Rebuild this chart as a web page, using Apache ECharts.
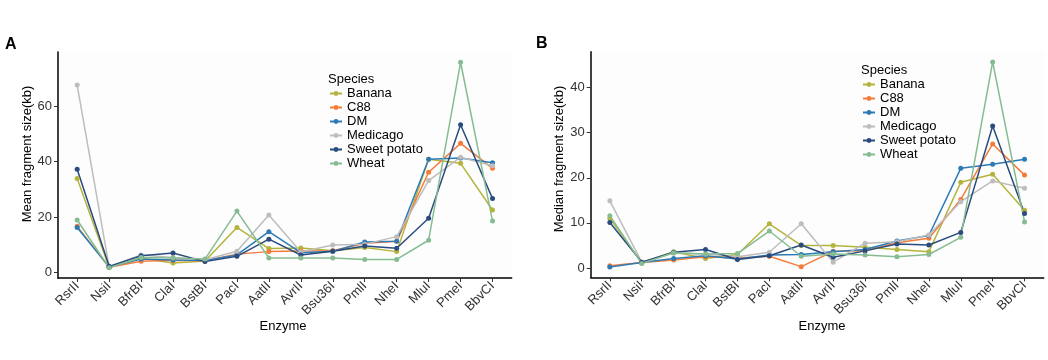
<!DOCTYPE html>
<html>
<head>
<meta charset="utf-8">
<script src="https://cdn.jsdelivr.net/npm/echarts@6/dist/echarts.min.js"></script>
<style>
html,body{margin:0;padding:0;background:#fff;}
#chart{width:1048px;height:360px;}
</style>
</head>
<body>
<div id="chart"></div>
<script>
const categories = ['RsrII','NsiI','BfrBI','ClaI','BstBI','PacI','AatII','AvrII','Bsu36I','PmlI','NheI','MluI','PmeI','BbvCI'];
const speciesNames = ['Banana','C88','DM','Medicago','Sweet potato','Wheat'];
const speciesColors = ['#B4B43C','#F47C3A','#2C7BB6','#BDBDBD','#294B7E','#86BC92'];

// Panel A: mean fragment size (kb)
const meanBanana      = [33.9, 2.0, 5.2, 3.5, 4.2, 16.3, 8.7, 8.9, 7.9, 9.1, 7.6, 40.9, 39.4, 22.6];
const meanC88         = [16.7, 2.0, 4.1, 4.5, 4.3, 6.7, 7.6, 7.8, 7.9, 10.6, 11.3, 36.2, 46.6, 37.6];
const meanDM          = [16.3, 2.1, 4.9, 4.6, 4.4, 6.4, 14.8, 7.2, 7.7, 11.1, 11.3, 40.9, 41.3, 39.6];
const meanMedicago    = [67.6, 2.2, 6.4, 5.5, 4.7, 7.7, 20.8, 7.5, 10.0, 10.3, 13.0, 33.2, 41.6, 38.5];
const meanSweetPotato = [37.3, 2.3, 6.1, 7.1, 4.0, 5.9, 12.1, 6.4, 7.7, 9.6, 8.8, 19.6, 53.3, 26.7];
const meanWheat       = [19.0, 1.8, 5.5, 5.3, 4.9, 22.2, 5.3, 5.3, 5.3, 4.8, 4.8, 11.7, 75.8, 18.6];

// Panel B: median fragment size (kb)
const medBanana      = [11.0, 1.2, 3.6, 2.1, 3.0, 9.8, 5.0, 5.0, 4.6, 4.1, 3.6, 19.0, 20.8, 12.8];
const medC88         = [0.5, 1.2, 1.8, 2.5, 2.2, 2.6, 0.3, 3.7, 3.8, 5.6, 6.6, 15.2, 27.5, 20.6];
const medDM          = [0.2, 1.2, 2.1, 2.7, 2.0, 2.9, 3.0, 3.6, 4.1, 6.0, 7.2, 22.1, 23.0, 24.1];
const medMedicago    = [14.9, 1.3, 3.3, 3.1, 2.5, 3.5, 9.8, 1.3, 5.5, 5.8, 7.3, 14.7, 19.3, 17.7];
const medSweetPotato = [10.1, 1.3, 3.5, 4.1, 1.9, 2.7, 5.1, 2.4, 3.8, 5.3, 5.1, 7.9, 31.5, 12.1];
const medWheat       = [11.6, 1.0, 3.4, 3.1, 3.2, 8.2, 2.6, 3.1, 2.9, 2.5, 3.0, 6.8, 45.7, 10.2];

const yTicksA = [0, 20, 40, 60];
const yTicksB = [0, 10, 20, 30, 40];

const meanSets = [meanBanana, meanC88, meanDM, meanMedicago, meanSweetPotato, meanWheat];
const medSets  = [medBanana, medC88, medDM, medMedicago, medSweetPotato, medWheat];

const FONT = 'Liberation Sans, Arial, sans-serif';
const catIdx = categories.map((c, i) => i);

function xAxisFor(gridIndex) {
  return {
    type: 'value', gridIndex: gridIndex, min: -0.6, max: 13.6,
    axisLine: {show: true, onZero: false, lineStyle: {color: '#000', width: 1.5}},
    axisTick: {show: true, customValues: catIdx, length: 4, lineStyle: {color: '#333', width: 1}},
    axisLabel: {customValues: catIdx, formatter: v => categories[Math.round(v)], rotate: 45,
      margin: 6, color: '#333', fontSize: 13, fontFamily: FONT},
    splitLine: {show: false}
  };
}
function yAxisFor(gridIndex, min, max, ticks) {
  return {
    type: 'value', gridIndex: gridIndex, min: min, max: max,
    axisLine: {show: true, onZero: false, lineStyle: {color: '#000', width: 1.5}},
    axisTick: {show: true, customValues: ticks, length: 4, lineStyle: {color: '#333', width: 1}},
    axisLabel: {customValues: ticks, margin: 6, color: '#333', fontSize: 13, fontFamily: FONT},
    splitLine: {show: false}
  };
}

const series = [];
[meanSets, medSets].forEach((sets, g) => {
  sets.forEach((vals, s) => {
    series.push({
      type: 'line', name: speciesNames[s], xAxisIndex: g, yAxisIndex: g,
      data: vals.map((v, i) => [i, v]),
      symbol: 'circle', symbolSize: 5,
      lineStyle: {width: 1.5, color: speciesColors[s]},
      itemStyle: {color: speciesColors[s]},
      emphasis: {disabled: true},
      animation: false
    });
  });
});

function legendFor(left, top) {
  return {
    orient: 'vertical', left: left, top: top, padding: 0, itemGap: 1,
    itemWidth: 12, itemHeight: 6,
    data: speciesNames,
    textStyle: {fontSize: 13, lineHeight: 13, color: '#000', fontFamily: FONT, padding: [0, 0, 0, 0]},
    selectedMode: false
  };
}

const option = {
  backgroundColor: '#fff',
  animation: false,
  grid: [
    {left: 58, top: 52, width: 453.7, height: 226, show: true, backgroundColor: '#fdfdfd', borderWidth: 0},
    {left: 590.7, top: 51.7, width: 453, height: 225.6, show: true, backgroundColor: '#fdfdfd', borderWidth: 0}
  ],
  xAxis: [xAxisFor(0), xAxisFor(1)],
  yAxis: [yAxisFor(0, -1.9, 79.5, yTicksA), yAxisFor(1, -2.06, 47.96, yTicksB)],
  legend: [legendFor(329, 87), legendFor(862, 78)],
  series: series,
  graphic: [
    {type: 'text', left: 5, top: 37, style: {text: 'A', font: 'bold 16px ' + FONT, fill: '#000'}},
    {type: 'text', left: 536, top: 36, style: {text: 'B', font: 'bold 16px ' + FONT, fill: '#000'}},
    {type: 'text', x: 27, y: 154, rotation: Math.PI / 2,
      style: {text: 'Mean fragment size(kb)', font: '13px ' + FONT, fill: '#000', align: 'center', verticalAlign: 'middle'}},
    {type: 'text', x: 559, y: 159, rotation: Math.PI / 2,
      style: {text: 'Median fragment size(kb)', font: '13px ' + FONT, fill: '#000', align: 'center', verticalAlign: 'middle'}},
    {type: 'text', x: 283, y: 326,
      style: {text: 'Enzyme', font: '13px ' + FONT, fill: '#000', align: 'center', verticalAlign: 'middle'}},
    {type: 'text', x: 822, y: 326,
      style: {text: 'Enzyme', font: '13px ' + FONT, fill: '#000', align: 'center', verticalAlign: 'middle'}},
    {type: 'text', x: 328, y: 79,
      style: {text: 'Species', font: '13px ' + FONT, fill: '#000', align: 'left', verticalAlign: 'middle'}},
    {type: 'text', x: 861, y: 70,
      style: {text: 'Species', font: '13px ' + FONT, fill: '#000', align: 'left', verticalAlign: 'middle'}}
  ]
};

const chart = echarts.init(document.getElementById('chart'), null, {renderer: 'canvas'});
chart.setOption(option);
</script>
</body>
</html>
